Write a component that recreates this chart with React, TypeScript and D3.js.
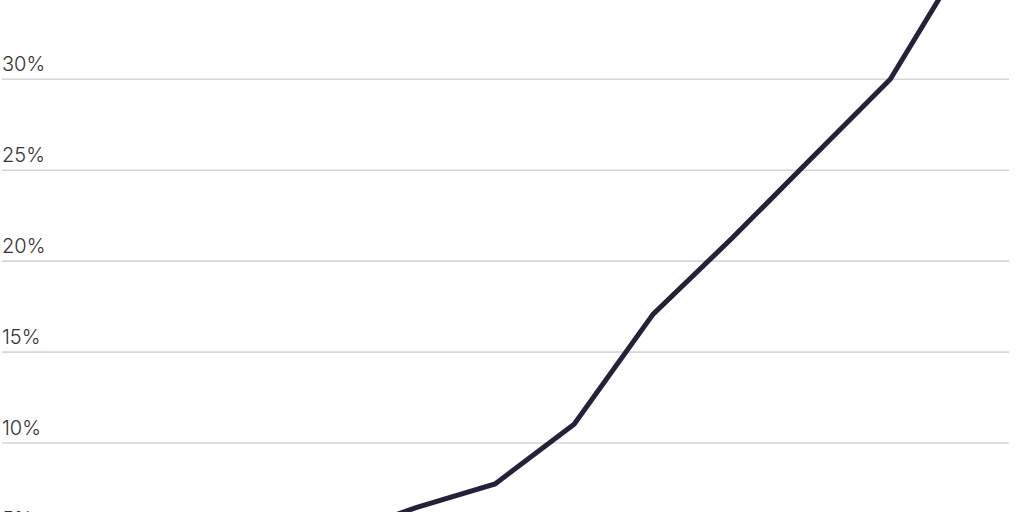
import { useRef, useEffect } from 'react';
import * as d3 from 'd3';

const W = 1024;
const H = 512;

// Years along the x axis (axis itself sits below the visible area)
const years = [2008, 2009, 2010, 2011, 2012, 2013, 2014, 2015, 2016, 2017, 2018, 2019, 2020, 2021];
// Share, in percent
const shares = [1.6, 2.0, 2.4, 3.0, 3.8, 4.9, 6.45, 7.75, 11.04, 17.09, 21.27, 25.64, 30.0, 37.16];
const yTicks = [5, 10, 15, 20, 25, 30];

export default function App() {
  const ref = useRef<SVGSVGElement>(null);

  useEffect(() => {
    if (!ref.current) return;
    const svg = d3.select(ref.current);
    svg.selectAll('*').remove();

    const x = d3.scaleLinear()
      .domain([years[0], years[years.length - 1]])
      .range([-58.2, 969.3]);

    const y = d3.scaleLinear()
      .domain([0, 30])
      .range([624.9, 79.3]);

    // Gridlines
    svg.append('g')
      .selectAll('line')
      .data(yTicks)
      .join('line')
      .attr('x1', 2)
      .attr('x2', 1009)
      .attr('y1', d => y(d))
      .attr('y2', d => y(d))
      .attr('stroke', '#d6d6d6')
      .attr('stroke-width', 1.6);

    // Tick labels, sitting above their gridline
    svg.append('g')
      .selectAll('text')
      .data(yTicks)
      .join('text')
      .attr('x', 2)
      .attr('y', d => y(d) - 8)
      .attr('fill', '#333333')
      .attr('font-size', 20)
      .attr('font-weight', 300)
      .attr('font-family', 'Inter, "Noto Sans", sans-serif')
      .text(d => `${d}%`);

    const line = d3.line<number>()
      .x((_, i) => x(years[i]))
      .y(d => y(d));

    svg.append('path')
      .datum(shares)
      .attr('d', line)
      .attr('fill', 'none')
      .attr('stroke', '#26203b')
      .attr('stroke-width', 5)
      .attr('stroke-linejoin', 'miter');
  }, []);

  return (
    <svg
      ref={ref}
      width={W}
      height={H}
      style={{ position: 'absolute', left: 0, top: 0, display: 'block', background: '#ffffff' }}
    />
  );
}
